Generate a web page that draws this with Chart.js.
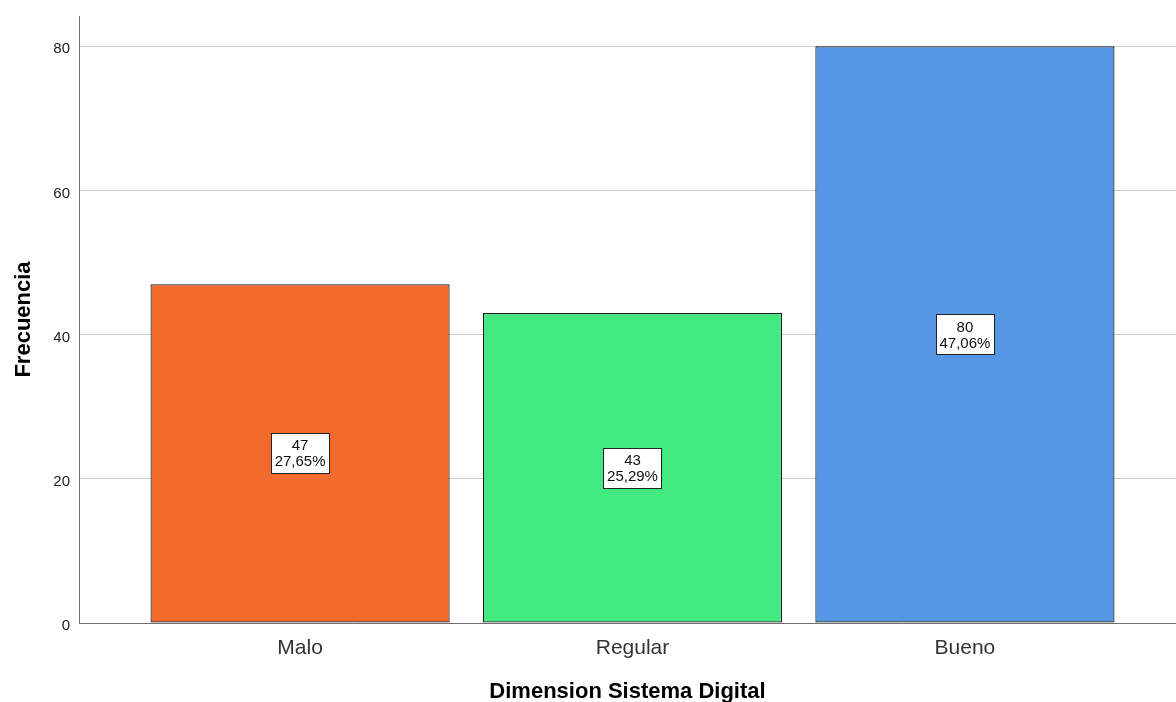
<!DOCTYPE html>
<html>
<head>
<meta charset="utf-8">
<script src="https://cdn.jsdelivr.net/npm/chart.js@4.4.1/dist/chart.umd.min.js"></script>
<style>
  html, body { margin: 0; padding: 0; background: #fff; }
  #wrap { width: 1176px; height: 702px; position: relative; }
</style>
</head>
<body>
<div id="wrap"><canvas id="c"></canvas></div>
<script>
// Frequency of each rating for "Dimension Sistema Digital"
const categories = ['Malo', 'Regular', 'Bueno'];
const frequencies = [47, 43, 80];
const barColors = ['#F26A2C', '#41E97F', '#5596E5'];
const yTickValues = [0, 20, 40, 60, 80];

const total = frequencies.reduce((a, b) => a + b, 0);
const FONT = '"Liberation Sans", Arial, sans-serif';

// Value / percentage boxes in the middle of every bar
const barLabels = {
  id: 'barLabels',
  afterDatasetsDraw(chart) {
    const ctx = chart.ctx;
    const meta = chart.getDatasetMeta(0);
    ctx.save();
    ctx.font = '15px ' + FONT;
    ctx.textAlign = 'center';
    ctx.textBaseline = 'middle';
    meta.data.forEach((bar, i) => {
      const { x, y, base } = bar.getProps(['x', 'y', 'base'], true);
      const v = frequencies[i];
      const pct = (v / total * 100).toFixed(2).replace('.', ',') + '%';
      const cy = (y + base) / 2;
      const w = Math.round(Math.max(ctx.measureText(pct).width, ctx.measureText(String(v)).width) + 7);
      const h = 40;
      const bx = Math.round(x - w / 2) + 0.5;
      const by = Math.round(cy - h / 2) + 0.5;
      ctx.fillStyle = '#ffffff';
      ctx.fillRect(bx, by, w, h);
      ctx.strokeStyle = '#222222';
      ctx.lineWidth = 1;
      ctx.strokeRect(bx, by, w, h);
      ctx.fillStyle = '#111';
      ctx.fillText(String(v), x, cy - 7);
      ctx.fillText(pct, x, cy + 9);
    });
    ctx.restore();
  }
};

new Chart(document.getElementById('c'), {
  type: 'bar',
  data: {
    datasets: [{
      data: frequencies.map((v, i) => ({ x: i, y: v })),
      backgroundColor: barColors,
      borderColor: '#1e1e1e',
      borderWidth: 1.2,
      borderSkipped: false,
      barPercentage: 0.9,
      categoryPercentage: 1.0
    }]
  },
  options: {
    responsive: true,
    maintainAspectRatio: false,
    animation: false,
    layout: { padding: { top: 16, right: 0, left: 0, bottom: 0 } },
    plugins: { legend: { display: false }, tooltip: { enabled: false } },
    scales: {
      x: {
        type: 'linear',
        offset: false,
        min: -0.665,
        max: 2.635,
        afterBuildTicks: (scale) => { scale.ticks = categories.map((_, i) => ({ value: i })); },
        afterFit: (scale) => { scale.height = 79; scale.paddingLeft = 0; scale.paddingRight = 0; },
        grid: { display: false, drawTicks: false, offset: false },
        border: { color: '#6e6e6e', width: 1 },
        ticks: {
          autoSkip: false,
          maxRotation: 0,
          padding: 13,
          color: '#333',
          font: { family: FONT, size: 21 },
          callback: (v) => categories[v] ?? ''
        },
        title: {
          display: true,
          text: 'Dimension Sistema Digital',
          color: '#000',
          font: { family: FONT, size: 22, weight: 'bold', lineHeight: 0.9 },
          padding: { top: 0, bottom: 0 }
        }
      },
      y: {
        min: 0,
        max: 84.2,
        afterBuildTicks: (scale) => { scale.ticks = yTickValues.map(v => ({ value: v })); },
        afterFit: (scale) => { scale.width = 79; scale.paddingTop = 0; scale.paddingBottom = 0; },
        grid: { color: '#cdcdcd', lineWidth: 1, drawTicks: false },
        border: { color: '#6e6e6e', width: 1 },
        ticks: {
          padding: 9,
          labelOffset: 3,
          color: '#222',
          font: { family: FONT, size: 15 }
        },
        title: {
          display: true,
          text: 'Frecuencia',
          color: '#000',
          font: { family: FONT, size: 22, weight: 'bold', lineHeight: 1.0 },
          padding: { top: 13, bottom: 0 }
        }
      }
    }
  },
  plugins: [barLabels]
});
</script>
</body>
</html>
